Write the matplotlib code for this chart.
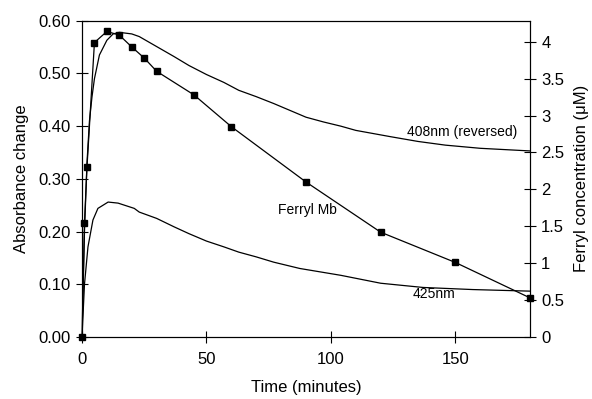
import matplotlib.pyplot as plt
from matplotlib.ticker import FuncFormatter

plt.rcParams['font.family'] = ['Liberation Sans', 'DejaVu Sans']

# 408nm trace (reversed), absorbance change
t_408 = [0, 0.5, 1, 2, 3, 4, 5, 7, 10, 12.5, 15, 20, 23, 30, 37, 43, 50,
         57, 63, 70, 77, 84, 90, 97, 104, 110, 117, 124, 135, 146, 160, 180]
a_408 = [0, 0.10, 0.20, 0.33, 0.41, 0.455, 0.49, 0.535, 0.563, 0.575,
         0.578, 0.575, 0.570, 0.551, 0.532, 0.515, 0.498, 0.483, 0.468,
         0.456, 0.443, 0.429, 0.417, 0.408, 0.400, 0.392, 0.386, 0.380,
         0.371, 0.364, 0.358, 0.353]

# 425nm trace, absorbance change
t_425 = [0, 0.5, 1, 2.4, 4.4, 6.4, 10.5, 14.5, 21, 23, 30, 37, 43, 50, 57,
         63, 70, 77, 87.5, 104, 120, 137, 157, 180]
a_425 = [0, 0.05, 0.10, 0.171, 0.222, 0.244, 0.256, 0.254, 0.244, 0.237,
         0.225, 0.209, 0.196, 0.182, 0.171, 0.161, 0.152, 0.142, 0.130,
         0.117, 0.102, 0.094, 0.090, 0.087]

# ferryl Mb concentration (uM)
t_fer = [0, 1, 2, 5, 10, 15, 20, 25, 30, 45, 60, 90, 120, 150, 180]
c_fer = [0, 1.55, 2.30, 3.99, 4.14, 4.09, 3.93, 3.78, 3.60, 3.28, 2.85,
         2.10, 1.42, 1.01, 0.53]

fig = plt.figure(figsize=(5.92, 3.99), dpi=100)
ax = fig.add_axes([0.1385, 0.1554, 0.7568, 0.7926])
ax2 = ax.twinx()

ax.plot(t_408, a_408, color="black", lw=0.9)
ax.plot(t_425, a_425, color="black", lw=0.9)
ax2.plot(t_fer, c_fer, color="black", lw=0.9, marker="s", markersize=4.5,
         clip_on=False, zorder=5)

ax.set_xlim(0, 180)
ax.set_ylim(0, 0.6)
ax2.set_ylim(0, 4.285)
ax.set_xticks([0, 50, 100, 150])
ax.set_yticks([0, 0.1, 0.2, 0.3, 0.4, 0.5, 0.6])
ax.yaxis.set_major_formatter(FuncFormatter(lambda v, p: "%.2f" % v))
ax2.set_yticks([0, 0.5, 1, 1.5, 2, 2.5, 3, 3.5, 4])
ax2.yaxis.set_major_formatter(FuncFormatter(lambda v, p: "%g" % v))

for a in (ax, ax2):
    a.tick_params(direction="inout", length=8, width=0.8, labelsize=12,
                  colors="black", pad=4)
    for s in a.spines.values():
        s.set_linewidth(0.8)
ax.tick_params(axis="x", pad=7)

ax.set_xlabel("Time (minutes)", fontsize=12, labelpad=9)
ax.set_ylabel("Absorbance change", fontsize=12, labelpad=7)
ax2.set_ylabel("Ferryl concentration (\u03bcM)", fontsize=12, labelpad=7)

ax.text(152.6, 0.389, "408nm (reversed)", fontsize=10, ha="center",
        va="center")
ax.text(90.5, 0.240, "Ferryl Mb", fontsize=10, ha="center", va="center")
ax.text(141.3, 0.081, "425nm", fontsize=10, ha="center", va="center")

fig.savefig("out.png", dpi=100)
